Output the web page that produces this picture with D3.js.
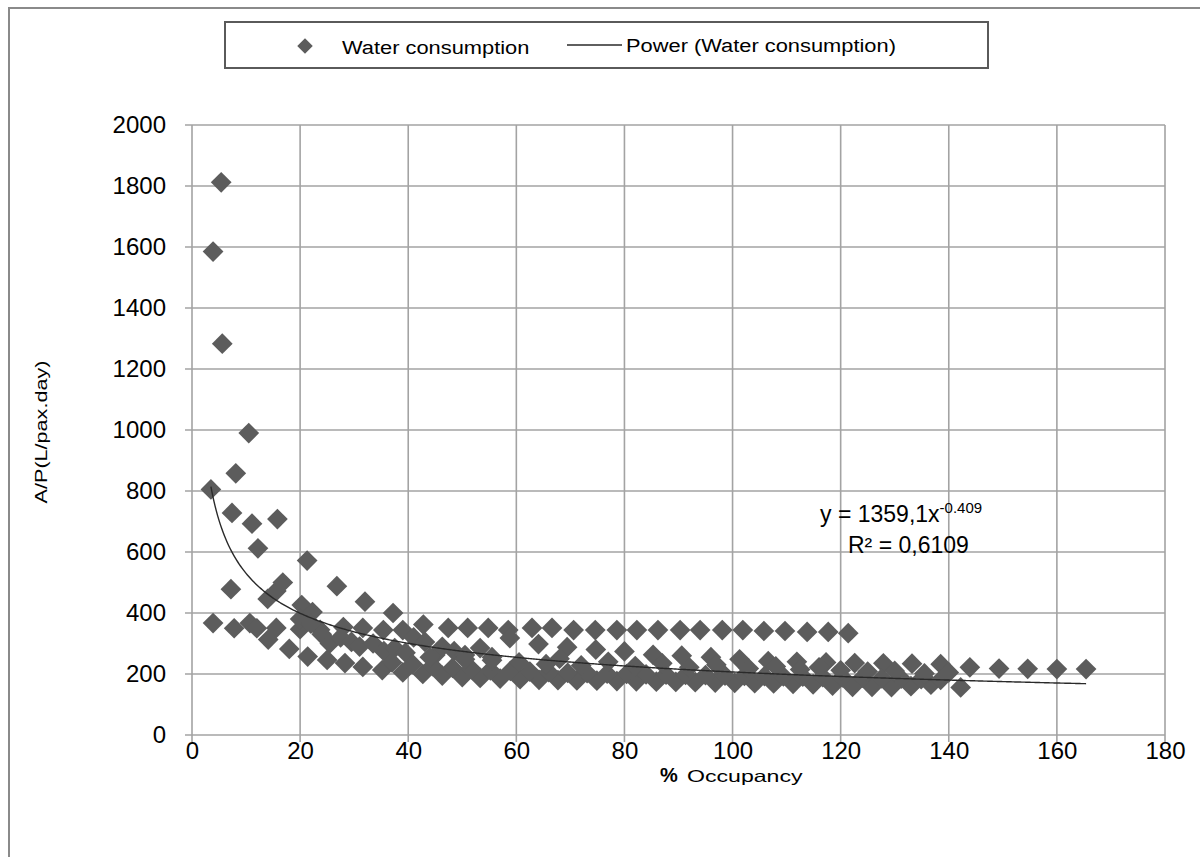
<!DOCTYPE html>
<html>
<head>
<meta charset="utf-8">
<script src="https://cdn.jsdelivr.net/npm/d3@7"></script>
<style>
  body { margin: 0; background: #fff; }
  svg text { font-family: "Liberation Sans", Arial, sans-serif; fill: #000; }
</style>
</head>
<body>
<svg id="chart" width="1200" height="857"></svg>
<script>
///// Data

// sparse high values at low occupancy
let occHigh = [3.5, 3.9, 5.4, 5.6, 7.2, 7.4, 8.1, 10.5, 11.1, 12.2, 14.0, 15.8, 15.6, 16.8, 20.3, 21.3, 22.3, 26.8, 32.0, 37.2];
let useHigh = [805, 1585, 1812, 1283, 478, 728, 858, 990, 693, 612, 446, 708, 472, 500, 426, 572, 403, 488, 437, 400];

// the flat band around 345
let occUpper = [3.9, 7.8, 10.7, 12.0, 15.6, 20.0, 23.7, 28.0, 31.6, 35.4, 39.0, 42.8, 47.4, 51.0, 54.8, 58.5, 62.9, 66.6, 70.6, 74.6, 78.6, 82.3, 86.2, 90.3, 94.0, 98.1, 101.9, 105.8, 109.7, 113.8, 117.7, 121.4];
let useUpper = [367, 350, 367, 350, 351, 347, 345, 354, 351, 344, 344, 362, 351, 351, 351, 344, 351, 351, 344, 344, 344, 344, 344, 344, 344, 344, 344, 341, 341, 338, 338, 334];

// middle row, slowly falling to ~216
let occMiddle = [58.8, 64.1, 69.4, 74.7, 80.0, 85.3, 90.6, 96.0, 101.3, 106.6, 111.9, 117.3, 122.6, 127.9, 133.2, 138.5, 143.9, 149.3, 154.6, 160.0, 165.4];
let useMiddle = [318, 298, 288, 280, 274, 263, 260, 255, 248, 242, 240, 238, 236, 235, 234, 232, 222, 218, 217, 216, 216];

// scatter near the curve between 20 and 56 %
let occCurve = [20.0, 22.0, 24.0, 25.5, 27.5, 29.5, 31.0, 33.5, 35.5, 37.5, 39.5, 41.0, 43.1, 45.0, 46.3, 48.5, 50.5, 53.3, 55.5];
let useCurve = [380, 365, 330, 300, 320, 305, 290, 300, 275, 285, 270, 320, 305, 262, 289, 275, 262, 285, 255];

// bottom row
let occLow = [14.1, 18.0, 21.4, 25.0, 28.3, 31.6, 35.2, 39.0, 42.7, 46.3, 50.0, 53.3, 57.0, 60.7, 64.2, 67.7, 71.2, 74.9, 78.6, 82.2, 85.9, 89.5, 93.1, 96.8, 100.4, 104.1, 107.6, 111.2, 114.9, 118.5, 122.2, 125.8, 129.4, 133.0, 136.7, 142.2];
let useLow = [313, 282, 257, 246, 236, 223, 213, 205, 200, 195, 190, 187, 185, 183, 181, 180, 179, 178, 177, 176, 175, 174, 173, 172, 171, 170, 169, 168, 166, 162, 158, 158, 157, 160, 165, 156];

// second lower row
let occLow2 = [37.0, 40.8, 44.5, 48.2, 51.7, 55.2, 58.9, 62.5, 66.0, 69.5, 73.1, 76.8, 80.4, 84.0, 87.7, 91.3, 95.0, 98.6, 102.2, 105.9, 109.4, 113.0, 116.7, 120.3, 124.0, 127.6, 131.2, 134.9, 138.5];
let useLow2 = [238, 232, 226, 220, 216, 212, 210, 208, 206, 204, 203, 201, 200, 199, 198, 197, 196, 195, 194, 193, 192, 191, 190, 189, 188, 186, 185, 183, 181];

// scattered row between
let occMid2 = [44.0, 50.5, 55.5, 60.5, 65.5, 68.0, 72.0, 77.0, 82.0, 87.0, 92.0, 97.0, 103.0, 108.0, 112.5, 116.0, 120.0, 125.0, 130.0, 135.5, 140.0];
let useMid2 = [255, 248, 245, 238, 232, 250, 228, 240, 226, 235, 222, 230, 218, 225, 215, 222, 212, 208, 210, 202, 205];

// power trendline shown on the chart
let trendA = 1359.1, trendB = -0.409;
let trendFrom = 3.5, trendTo = 165.4;

let xTicks = [0, 20, 40, 60, 80, 100, 120, 140, 160, 180];
let yTicks = [0, 200, 400, 600, 800, 1000, 1200, 1400, 1600, 1800, 2000];

let points = [];
[[occHigh, useHigh], [occUpper, useUpper], [occMiddle, useMiddle], [occCurve, useCurve],
 [occLow, useLow], [occLow2, useLow2], [occMid2, useMid2]].forEach(function(g) {
    g[0].forEach(function(v, i) { points.push({ occ: v, use: g[1][i] }); });
});

///// Layout

let plot = { left: 192, right: 1165, top: 125, bottom: 735 };
let gridColor = "#a3a3a3";
let markColor = "#5c5c5c";

let x = d3.scaleLinear().domain([0, 180]).range([plot.left, plot.right]);
let y = d3.scaleLinear().domain([0, 2000]).range([plot.bottom, plot.top]);

let svg = d3.select("#chart");

// outer frame
svg.append("rect")
    .attr("x", 9).attr("y", 8)
    .attr("width", 1210).attr("height", 870)
    .attr("fill", "none").attr("stroke", "#8a8a8a").attr("stroke-width", 2);

// grid
svg.append("g").selectAll("line").data(yTicks).enter().append("line")
    .attr("x1", plot.left - 7).attr("x2", plot.right)
    .attr("y1", d => y(d)).attr("y2", d => y(d))
    .attr("stroke", gridColor).attr("stroke-width", 1.6);

svg.append("g").selectAll("line").data(xTicks).enter().append("line")
    .attr("x1", d => x(d)).attr("x2", d => x(d))
    .attr("y1", plot.top).attr("y2", plot.bottom + 7)
    .attr("stroke", gridColor).attr("stroke-width", 1.6);

// axes (labels only, grid draws the lines)
let yAxis = svg.append("g")
    .attr("transform", "translate(" + plot.left + ",0)")
    .call(d3.axisLeft(y).tickValues(yTicks).tickFormat(d3.format("d")).tickSize(0).tickPadding(26));
yAxis.select(".domain").remove();
yAxis.selectAll("text").attr("font-size", 24).attr("font-family", "Liberation Sans, Arial, sans-serif").attr("fill", "#000");

let xAxis = svg.append("g")
    .attr("transform", "translate(0," + plot.bottom + ")")
    .call(d3.axisBottom(x).tickValues(xTicks).tickSize(0).tickPadding(7));
xAxis.select(".domain").remove();
xAxis.selectAll("text").attr("font-size", 24).attr("font-family", "Liberation Sans, Arial, sans-serif").attr("fill", "#000");

// axis titles
svg.append("text")
    .attr("transform", "translate(47,432) rotate(-90) scale(1.35,1)")
    .attr("text-anchor", "middle")
    .attr("font-size", 16)
    .text("A/P(L/pax.day)");

svg.append("text")
    .attr("x", 660).attr("y", 782)
    .attr("font-size", 20)
    .attr("font-weight", "bold")
    .text("%");
svg.append("text")
    .attr("transform", "translate(687,782) scale(1.4,1)")
    .attr("font-size", 16.5)
    .text("Occupancy");

// points
let diamond = d3.symbol().type(d3.symbolSquare).size(215);
svg.append("g").selectAll("path").data(points).enter().append("path")
    .attr("d", diamond)
    .attr("transform", d => "translate(" + x(d.occ) + "," + y(d.use) + ") rotate(45)")
    .attr("fill", markColor);

// trendline
let trendLine = d3.line()
    .x(d => x(d))
    .y(d => y(trendA * Math.pow(d, trendB)))
    .curve(d3.curveLinear);
let trendX = d3.range(trendFrom, trendTo, 0.25).concat([trendTo]);
svg.append("path")
    .attr("d", trendLine(trendX))
    .attr("fill", "none")
    .attr("stroke", "#2a2a2a")
    .attr("stroke-width", 1.4);

// equation
let eq = svg.append("text").attr("x", 820).attr("y", 522).attr("font-size", 23);
eq.append("tspan").text("y = 1359,1x");
eq.append("tspan").attr("dy", -9).attr("font-size", 15).text("-0.409");
svg.append("text").attr("x", 848).attr("y", 553).attr("font-size", 23).text("R² = 0,6109");

// legend
svg.append("rect")
    .attr("x", 225).attr("y", 22)
    .attr("width", 763).attr("height", 46)
    .attr("fill", "#fff").attr("stroke", "#5a5a5a").attr("stroke-width", 2);
svg.append("path")
    .attr("d", d3.symbol().type(d3.symbolSquare).size(120))
    .attr("transform", "translate(305,46) rotate(45)")
    .attr("fill", markColor);
svg.append("text")
    .attr("transform", "translate(342,54) scale(1.15,1)")
    .attr("font-size", 19)
    .text("Water consumption");
svg.append("line")
    .attr("x1", 567).attr("x2", 622).attr("y1", 45).attr("y2", 45)
    .attr("stroke", "#2a2a2a").attr("stroke-width", 1.5);
svg.append("text")
    .attr("transform", "translate(626,52) scale(1.15,1)")
    .attr("font-size", 19)
    .text("Power (Water consumption)");
</script>
</body>
</html>
